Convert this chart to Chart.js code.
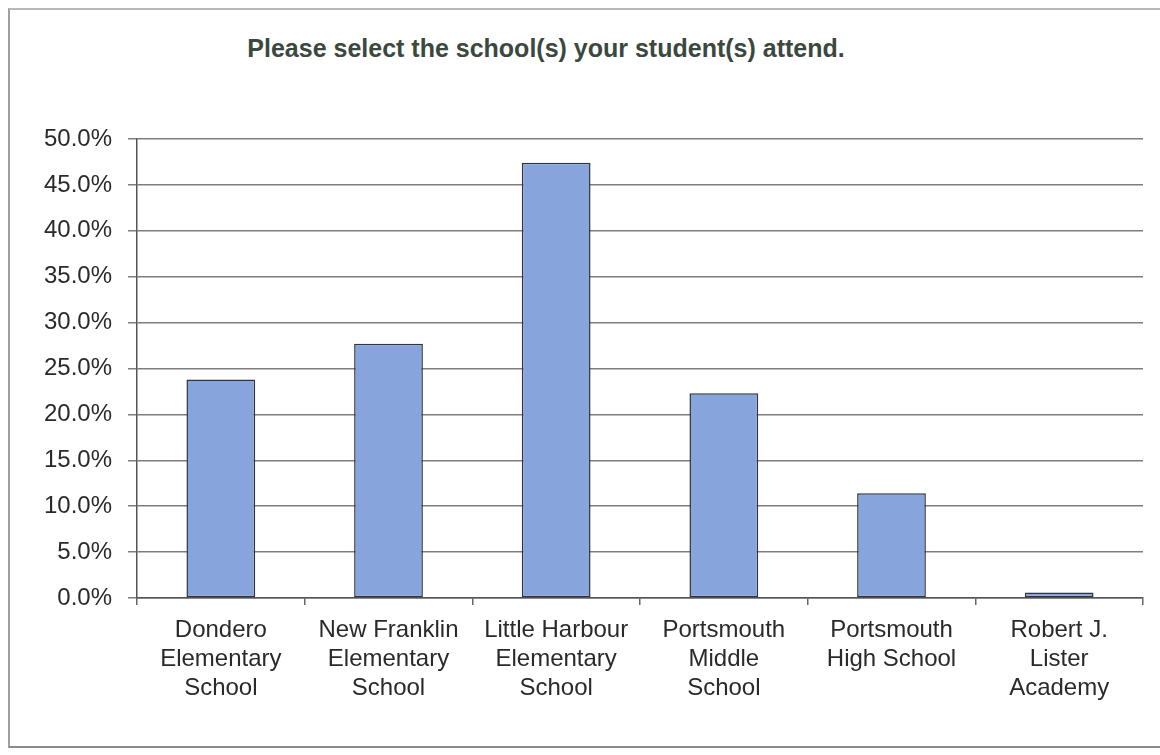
<!DOCTYPE html>
<html lang="en">
<head>
    <meta charset="UTF-8">
    <title>Schools</title>
    <script src="https://cdn.jsdelivr.net/npm/chart.js"></script>
    <style>
        body { margin: 0; background: #fff; }
        .quadro {
            position: absolute; left: 8px; top: 8px; width: 1160px; height: 736px;
            border-left: 2px solid #a0a0a0; border-top: 2px solid #b8b8b8; border-bottom: 2px solid #8a8a8a;
        }
        .titulo {
            position: absolute; left: 0; width: 1092px; top: 34px; text-align: center;
            font-family: "Liberation Sans", Arial, sans-serif; font-weight: bold; font-size: 25px;
            letter-spacing: 0px; color: #3b4840;
        }
        .grafico { position: absolute; left: 0; top: 0; width: 1160px; height: 755px; }
    </style>
</head>
<body>
    <div class="quadro"></div>
    <div class="titulo">Please select the school(s) your student(s) attend.</div>
    <div class="grafico"><canvas id="grafico_escolas"></canvas></div>

<script>
    // dados
    var escolas = [
        ['Dondero', 'Elementary', 'School'],
        ['New Franklin', 'Elementary', 'School'],
        ['Little Harbour', 'Elementary', 'School'],
        ['Portsmouth', 'Middle', 'School'],
        ['Portsmouth', 'High School'],
        ['Robert J.', 'Lister', 'Academy']
    ];
    var porcentagens = [23.8, 27.7, 47.4, 22.3, 11.4, 0.6];
    var ticksY = [0, 5, 10, 15, 20, 25, 30, 35, 40, 45, 50];

    var fonte = "'Liberation Sans', Arial, sans-serif";

    var ctx = document.getElementById('grafico_escolas').getContext('2d');

    const charData = {
        labels: escolas,
        datasets: [
            {
                data: porcentagens,
                backgroundColor: '#88a4dc',
                borderColor: '#2e3442',
                borderWidth: 1.5,
                borderSkipped: false,
                categoryPercentage: 1,
                barPercentage: 0.41
            }
        ]
    };

    var config = {
        type: 'bar',
        data: charData,
        options: {
            responsive: true,
            maintainAspectRatio: false,
            animation: false,
            layout: { padding: { top: 139, right: 17, left: 0, bottom: 0 } },
            plugins: {
                legend: { display: false },
                tooltip: { enabled: false }
            },
            scales: {
                x: {
                    offset: true,
                    grid: { offset: true, drawOnChartArea: false, drawTicks: true, tickLength: 7, color: '#666', lineWidth: 1.5 },
                    border: { color: '#555', width: 1.5 },
                    ticks: { color: '#2a2a2a', font: { family: fonte, size: 24 }, padding: 11, maxRotation: 0, autoSkip: false },
                    afterFit: function (s) { s.height = 157; }
                },
                y: {
                    min: 0,
                    max: 50,
                    afterBuildTicks: function (s) { s.ticks = ticksY.map(v => ({ value: v })); },
                    grid: { color: '#7d7d7d', lineWidth: 1.5, tickLength: 9 },
                    border: { color: '#555', width: 1.5 },
                    ticks: {
                        color: '#2a2a2a',
                        font: { family: fonte, size: 24 },
                        padding: 16,
                        callback: function (v) { return v.toFixed(1) + '%'; }
                    },
                    afterFit: function (s) { s.width = 137; }
                }
            }
        }
    };

    new Chart(ctx, config);
</script>
</body>
</html>
